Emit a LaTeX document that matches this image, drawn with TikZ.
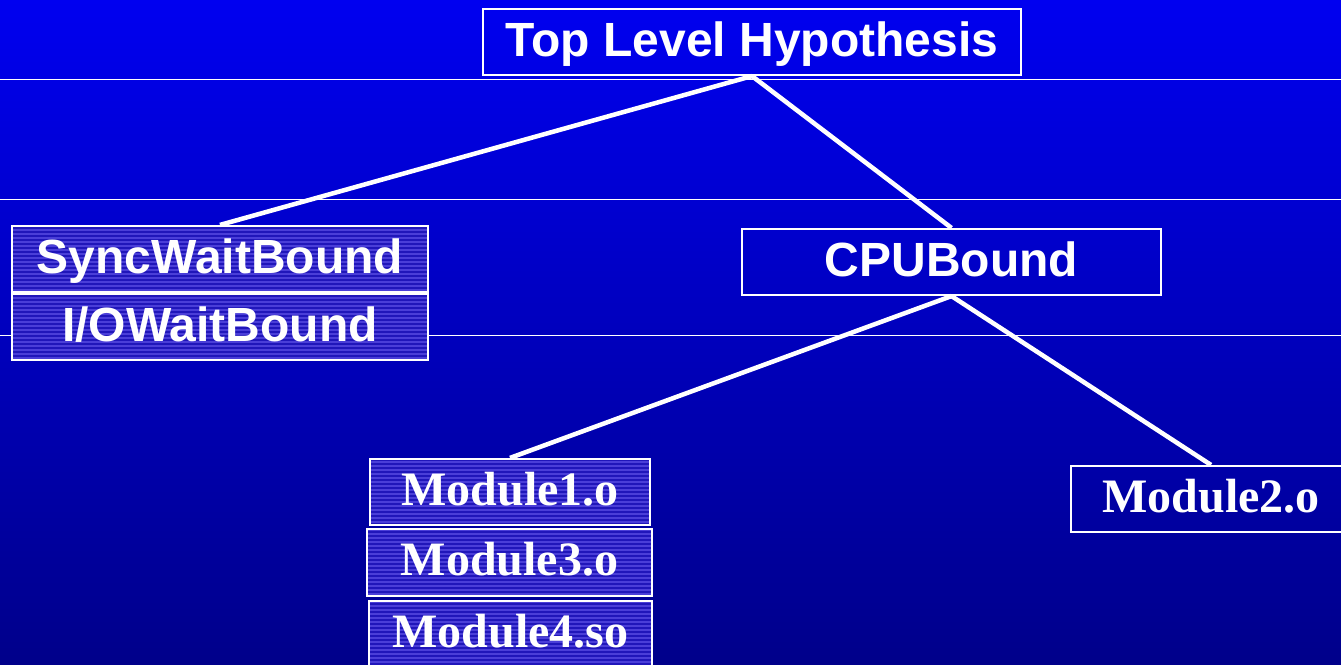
\documentclass[tikz,border=0pt]{standalone}
\usepackage{fontspec}
\setmainfont{Liberation Serif}
\setsansfont{Liberation Sans}
\usetikzlibrary{patterns.meta}

\definecolor{bgtop}{RGB}{0,0,240}
\definecolor{bgbottom}{RGB}{0,0,138}
\definecolor{stripelight}{RGB}{74,62,216}
\definecolor{stripedark}{RGB}{32,22,186}

\tikzset{
  basebox/.style={draw=white, line width=1.6pt, inner sep=0pt, text=white},
  sansbox/.style={basebox, font=\sffamily\bfseries\fontsize{36pt}{40pt}\selectfont,
    text height=26pt, text depth=4pt},
  serifbox/.style={basebox, font=\rmfamily\bfseries\fontsize{36pt}{40pt}\selectfont,
    text height=24pt, text depth=4pt},
  striped/.style={preaction={fill=stripelight},
    preaction={pattern={Lines[angle=0,distance=3pt,line width=1pt]},
                pattern color=stripedark}},
  guide/.style={draw=white, line width=0.7pt},
  link/.style={draw=white, line width=3.4pt}
}

\begin{document}
\begin{tikzpicture}[x=0.75pt,y=-0.75pt]
  \useasboundingbox (0,0) rectangle (1341,664);
  \clip (0,0) rectangle (1341,664);

  % backdrop
  \shade[top color=bgtop, bottom color=bgbottom] (0,0) rectangle (1341,664);

  % thin horizontal rules
  \draw[guide] (0,79) -- (1341,79);
  \draw[guide] (0,199) -- (1341,199);
  \draw[guide] (0,335) -- (1341,335);

  % hypothesis tree
  \node[sansbox, minimum width=403.5pt, minimum height=49.5pt] (top) at (752,42) {Top Level Hypothesis};
  \node[sansbox, striped, minimum width=312pt, minimum height=49.5pt] (sync) at (220,259) {SyncWaitBound};
  \node[sansbox, striped, minimum width=312pt, minimum height=49.5pt] (iow) at (220,327) {I/OWaitBound};
  \node[sansbox, minimum width=314.25pt, minimum height=49.5pt] (cpu) at (951.5,262) {CPUBound};

  % modules
  \node[serifbox, striped, minimum width=210pt, minimum height=49.5pt] (m1) at (510,492) {Module1.o};
  \node[serifbox, striped, minimum width=213.75pt, minimum height=50.25pt] (m3) at (509.5,562.5) {Module3.o};
  \node[serifbox, striped, minimum width=212.25pt, minimum height=49.5pt] (m4) at (510.5,634) {Module4.so};
  \node[serifbox, minimum width=210pt, minimum height=49.5pt] (m2) at (1211,499) {Module2.o};

  % connectors
  \draw[link] (top.south) -- (sync.north);
  \draw[link] (top.south) -- (cpu.north);
  \draw[link] (cpu.south) -- (m1.north);
  \draw[link] (cpu.south) -- (m2.north);
\end{tikzpicture}
\end{document}
